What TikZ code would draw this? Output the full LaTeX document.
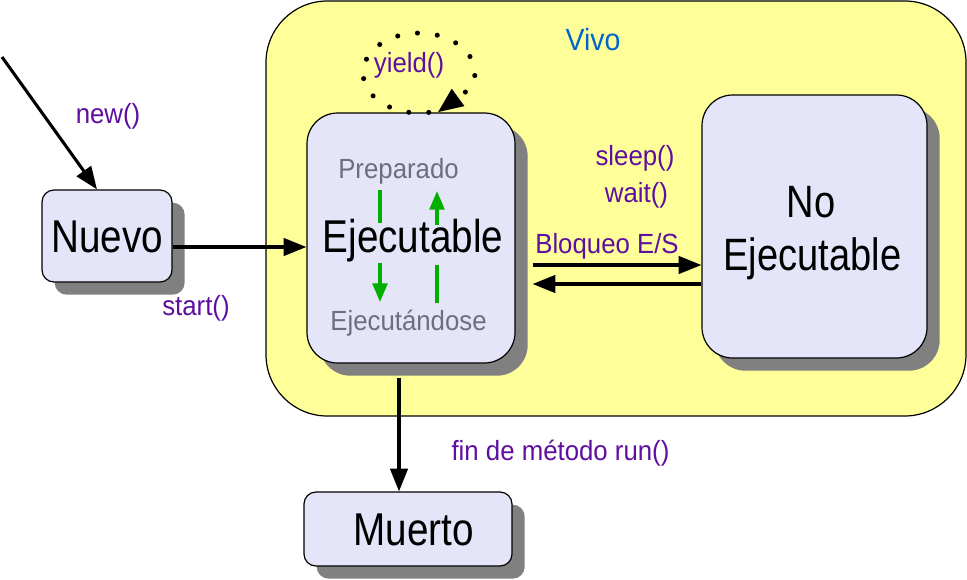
\documentclass[tikz,border=0pt]{standalone}
\usepackage{fontspec}
\setmainfont{Liberation Sans}
\newfontfamily\narrowfont{Liberation Sans}[FakeStretch=0.84]
\newfontfamily\lblfont{Liberation Sans}[FakeStretch=0.93]
\usetikzlibrary{arrows.meta,shadows,fit}
\definecolor{vivoyellow}{RGB}{255,255,153}
\definecolor{lav}{RGB}{229,229,250}
\definecolor{shadowgray}{RGB}{128,128,128}
\definecolor{purp}{RGB}{95,15,160}
\definecolor{graytxt}{RGB}{110,110,125}
\definecolor{greenarr}{RGB}{0,175,0}
\definecolor{vivoblue}{RGB}{0,102,204}
\begin{document}
\begin{tikzpicture}[x=0.75pt,y=-0.75pt,
  statebox/.style={draw=black, line width=0.9pt, fill=lav, inner sep=0pt,
    general shadow={fill=shadowgray, shadow xshift=9.5pt, shadow yshift=-9.5pt}},
  bigtext/.style={font=\narrowfont\fontsize{34.5}{40}\selectfont, anchor=base, inner sep=0pt},
  lbl/.style={font=\lblfont\fontsize{20.8}{24}\selectfont, text=purp, anchor=base, inner sep=0pt},
  sublbl/.style={font=\lblfont\fontsize{20.8}{24}\selectfont, text=graytxt, anchor=base, inner sep=0pt},
  conn/.style={line width=2.3pt, -{Triangle[length=17pt,width=13pt]}},
  greenconn/.style={line width=2.6pt, draw=greenarr, -{Triangle[length=14pt,width=11pt]}},
  greenline/.style={line width=2.6pt, draw=greenarr},
  dotloop/.style={line width=3.8pt, line cap=round, dash pattern=on 0pt off 15pt,
    -{Triangle[length=19pt,width=15pt]}}
]
\useasboundingbox (0,0) rectangle (967,579);

% Vivo region
\node[fit={(266,1)(966,416)}, draw=black, line width=0.9pt, fill=vivoyellow,
  rounded corners=46pt, inner sep=0pt] (vivo) {};
\node[font=\lblfont\fontsize{23}{28}\selectfont, text=vivoblue, anchor=base, inner sep=0pt]
  (vivotxt) at (593,50) {Vivo};

% State boxes
\node[statebox, rounded corners=9pt, fit={(42,190)(172,282)}] (nuevo) {};
\node[bigtext] (nuevotxt) at (107,252) {Nuevo};

\node[statebox, rounded corners=23pt, fit={(307,113)(515,363)}] (ejec) {};
\node[bigtext] (ejectxt) at (413,252) {Ejecutable};
\node[sublbl] (prep) at (398.5,178) {Preparado};
\node[sublbl] (ejecing) at (408.5,330) {Ejecutándose};

\node[statebox, rounded corners=23pt, fit={(702,95)(927,358)}] (noej) {};
\node[bigtext, font=\narrowfont\fontsize{34}{40}\selectfont] (noej1) at (811,217) {No};
\node[bigtext, font=\narrowfont\fontsize{34}{40}\selectfont] (noej2) at (812.5,270) {Ejecutable};

\node[statebox, rounded corners=9pt, fit={(304,492)(512,566)}] (muerto) {};
\node[bigtext] (muertotxt) at (413.5,545) {Muerto};

% helper coordinates
\coordinate (newstart) at (2,57);
\coordinate (y247) at (0,247);
\coordinate (y265) at (0,265);
\coordinate (y284) at (0,284);
\coordinate (x399) at (399,0);
\coordinate (yc) at (419,73);

% connectors
\draw[conn] (newstart) -- ([xshift=-7.5pt]nuevo.north);
\draw[conn] (nuevo.east |- y247) -- (ejec.west |- y247);
\draw[conn] ([xshift=12.75pt]ejec.east |- y265) -- (noej.west |- y265);
\draw[conn] (noej.west |- y284) -- ([xshift=12.75pt]ejec.east |- y284);
\draw[conn] ([yshift=-11pt]ejec.south -| x399) -- (muerto.north -| x399);

% yield loop
\draw[dotloop] ([shift={(80:56 and 40)}]yc) arc[start angle=80, end angle=382, x radius=56, y radius=40]
  -- ([xshift=20pt]ejec.north);

% green internal arrows
\draw[greenline] (380,190) -- (380,223);
\draw[greenconn] (380,263) -- (380,302);
\draw[greenline] (437,303) -- (437,265);
\draw[greenconn] (437,225) -- (437,191);

% labels
\node[lbl] (newlbl) at (108,123) {new()};
\node[lbl] (startlbl) at (196,315) {start()};
\node[lbl] (yieldlbl) at (409,72) {yield()};
\node[lbl] (sleeplbl) at (635,165) {sleep()};
\node[lbl] (waitlbl) at (636.5,202) {wait()};
\node[lbl] (bloqlbl) at (607,253) {Bloqueo E/S};
\node[lbl] (finlbl) at (560.5,460) {fin de método run()};
\end{tikzpicture}
\end{document}
